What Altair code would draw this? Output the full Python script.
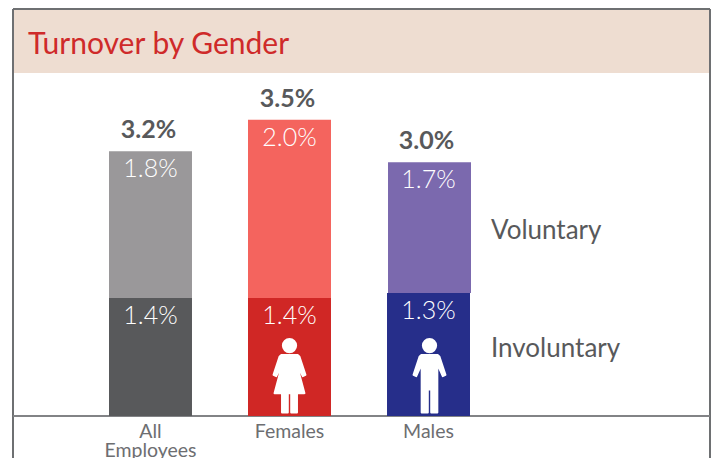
import altair as alt
import pandas as pd

FONT = "Lato"
DARK = "#58595b"

categories = ["All Employees", "Females", "Males"]
involuntary_height = [1.395, 1.395, 1.455]
total_height = [3.13, 3.5, 3.0]
involuntary_label = ["1.4%", "1.4%", "1.3%"]
voluntary_label = ["1.8%", "2.0%", "1.7%"]
total_label = ["3.2%", "3.5%", "3.0%"]
involuntary_colors = ["#58595b", "#d02725", "#262e8a"]
voluntary_colors = ["#9a989a", "#f4645e", "#7b69ae"]

df = pd.DataFrame({
    "cat": categories,
    "inv": involuntary_height,
    "tot": total_height,
    "invl": involuntary_label,
    "voll": voluntary_label,
    "totl": total_label,
})

x_scale = alt.Scale(domain=categories, range=[96, 457], paddingInner=0.403, paddingOuter=0)
y_scale = alt.Scale(domain=[0, 4.81], nice=False)
x = alt.X("cat:N", scale=x_scale, sort=None, title=None,
          axis=alt.Axis(labelAngle=0, ticks=False, labelFont=FONT, labelFontSize=19.5,
                        labelColor="#6d6e71", labelPadding=6, labelLimit=0,
                        domain=False, labelLineHeight=19,
                        labelExpr="datum.label == 'All Employees' ? ['All', 'Employees'] : datum.label"))
y = alt.Y("tot:Q", scale=y_scale, axis=None)


def shape(points):
    s = 114.0
    r = 19.5 / s
    cy = -94 / s
    p = "M" + " L".join(f"{a / s:.3f} {b / s:.3f}" for a, b in points) + " Z"
    h = f" M{-r:.3f} {cy:.3f} A{r:.3f} {r:.3f} 0 1 1 {r:.3f} {cy:.3f} A{r:.3f} {r:.3f} 0 1 1 {-r:.3f} {cy:.3f} Z"
    return p + h


FEMALE = shape([(-24, -66), (24, -66), (29, -62), (47, -8), (39, -4), (21, -40), (44, 46), (22, 46), (22, 103), (5, 103), (5, 46),
                (-5, 46), (-5, 103), (-22, 103), (-22, 46), (-44, 46), (-21, -40), (-39, -4), (-47, -8), (-29, -62)])
MALE = shape([(-24, -66), (24, -66), (29, -62), (47, -8), (39, -4), (23, -40), (23, 103), (5, 103), (5, 35), (-5, 35),
              (-5, 103), (-23, 103), (-23, -40), (-39, -4), (-47, -8), (-29, -62)])

frame_color = "#6d6e71"
EDGE = 697
band = alt.Chart(df).mark_rect(color="#eeddd1").encode(
    x=alt.value(0.5), x2=alt.value(EDGE - 0.5), y=alt.value(1), y2=alt.value(64))
left = alt.Chart(df).mark_rule(color=frame_color, strokeWidth=1.5).encode(
    x=alt.value(0), y=alt.value(0), y2=alt.value(460))
right = alt.Chart(df).mark_rule(color=frame_color, strokeWidth=1.5).encode(
    x=alt.value(EDGE), y=alt.value(0), y2=alt.value(460))
top = alt.Chart(df).mark_rule(color=frame_color, strokeWidth=1.5).encode(
    x=alt.value(0), x2=alt.value(EDGE), y=alt.value(0))
baseline = alt.Chart(df).mark_rule(color="#808285", strokeWidth=1.5).encode(
    x=alt.value(0), x2=alt.value(EDGE), y=alt.value(407))

colors_vol = alt.Color("cat:N", scale=alt.Scale(domain=categories, range=voluntary_colors), legend=None)
colors_inv = alt.Color("cat:N", scale=alt.Scale(domain=categories, range=involuntary_colors), legend=None)

vol_bars = alt.Chart(df).transform_filter("datum.cat != 'Males'").mark_bar().encode(
    x=x, y=y, y2="inv:Q", color=colors_vol)
vol_male = alt.Chart(df).transform_filter("datum.cat == 'Males'").mark_bar(xOffset=1).encode(
    x=x, y=y, y2="inv:Q", color=colors_vol)
inv_bars = alt.Chart(df).mark_bar().encode(
    x=x, y=alt.Y("inv:Q", scale=y_scale, axis=None), color=colors_inv)

tot_text = alt.Chart(df).mark_text(font=FONT, fontSize=25, fontWeight="bold", color=DARK, dy=-21, dx=-2).encode(
    x=x, y=y, text="totl:N")
vol_text = alt.Chart(df).mark_text(font=FONT, fontSize=25, fontWeight=300, color="white", dy=18).encode(
    x=x, y=y, text="voll:N")
inv_text = alt.Chart(df).mark_text(font=FONT, fontSize=25, fontWeight=300, color="white", dy=18).encode(
    x=x, y=alt.Y("inv:Q", scale=y_scale, axis=None), text="invl:N")

female = alt.Chart(df).transform_filter("datum.cat == 'Females'").mark_point(
    shape=FEMALE, size=6000, filled=True, color="white", opacity=1, stroke="white", strokeWidth=2, strokeJoin="round"
).encode(x=x, y=alt.value(368.5))
male = alt.Chart(df).transform_filter("datum.cat == 'Males'").mark_point(
    shape=MALE, size=6000, filled=True, color="white", opacity=1, stroke="white", strokeWidth=2, strokeJoin="round", xOffset=1
).encode(x=x, y=alt.value(368.5))

series = pd.DataFrame({"name": ["Voluntary", "Involuntary"], "py": [2.19, 0.79]})
side = alt.Chart(series).mark_text(font=FONT, fontSize=26, color=DARK, align="left").encode(
    x=alt.value(478), y=alt.Y("py:Q", scale=y_scale, axis=None), text="name:N")

chart = alt.layer(band, left, right, top, baseline, vol_bars, vol_male, inv_bars, tot_text, vol_text, inv_text,
                  female, male, side).resolve_scale(color="independent").properties(
    width=695,
    height=407,
    padding={"left": 5, "top": 1, "right": 3, "bottom": 42},
    autosize=alt.AutoSizeParams(type="none"),
    title=alt.TitleParams("Turnover by Gender", anchor="start", font=FONT, fontSize=30, fontWeight="normal",
                          color="#cf2a2a", dx=15, offset=-67, baseline="middle", frame="group"),
).configure_view(stroke=None)

chart.save("out.html", embed_options={"renderer": "svg", "actions": False})
